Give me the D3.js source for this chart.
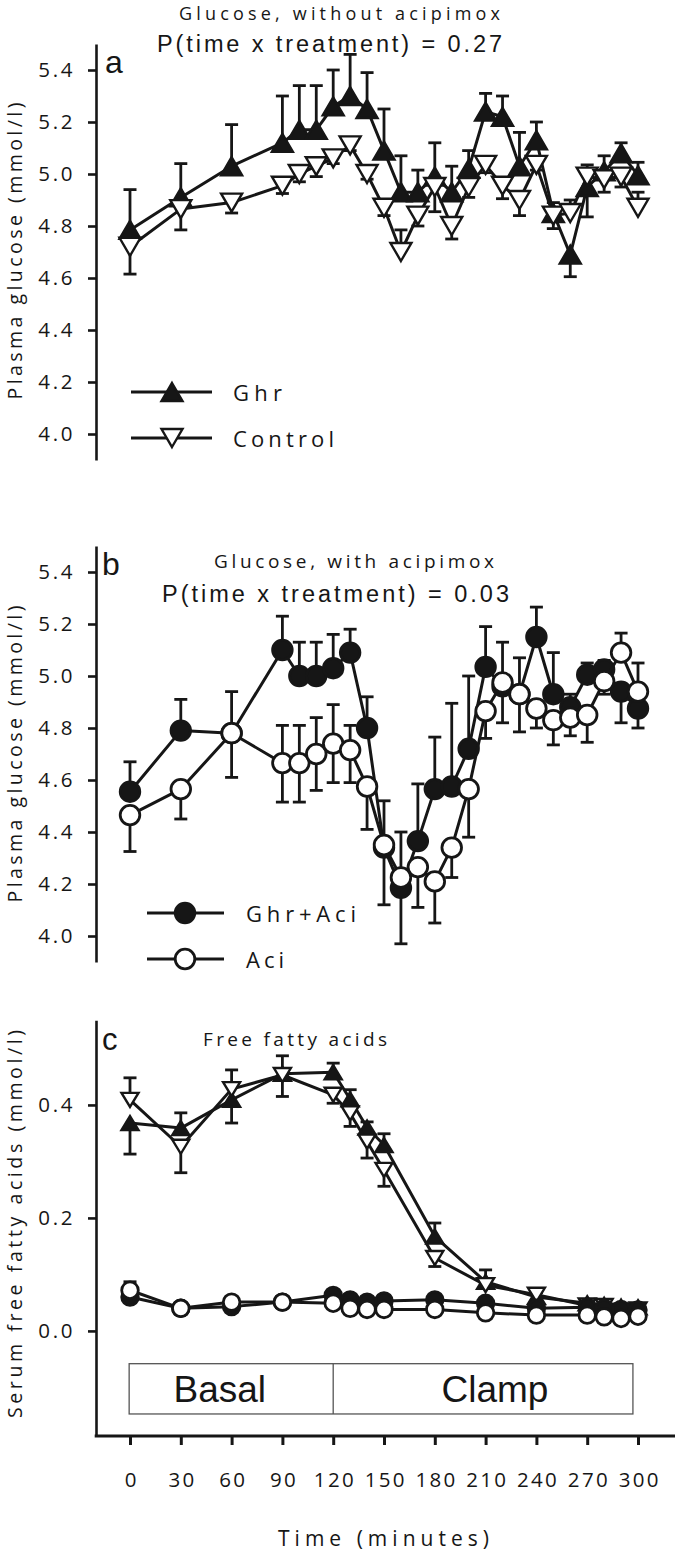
<!DOCTYPE html>
<html><head><meta charset="utf-8">
<script src="https://cdn.jsdelivr.net/npm/d3@7"></script>
<style>body{margin:0;background:#fff} svg{display:block}</style>
</head><body>
<script>
// ---------- DATA ----------
const timeGlu = [0,30,60,90,100,110,120,130,140,150,160,170,180,190,200,210,220,230,240,250,260,270,280,290,300];
// Panel a: Ghr (filled up-triangles) and Control (open down-triangles)
const ghrA     = [4.785,4.91,5.03,5.12,5.17,5.17,5.26,5.30,5.25,5.09,4.93,4.93,4.99,4.93,5.02,5.24,5.22,5.03,5.13,4.85,4.69,4.95,5.01,5.08,4.995];
const ghrAUp   = [0.155,0.13,0.16,0.18,0.17,0.17,0.14,0.16,0.14,0.16,0.14,0.085,0.13,0.10,0.07,0.07,0.08,0.13,0.07,0.04,0,0,0.06,0.04,0.05];
const ghrADn   = [0,0,0,0,0,0,0,0,0,0,0,0,0,0,0,0,0,0,0,0,0.085,0.115,0,0,0];
const ctlA     = [4.72,4.865,4.89,4.955,5.00,5.03,5.06,5.11,5.00,4.87,4.70,4.84,4.95,4.80,4.95,5.035,4.955,4.90,5.035,4.84,4.85,4.99,4.98,4.99,4.87];
const ctlAUp   = [0,0,0,0,0,0,0,0,0,0,0.085,0,0,0,0,0,0,0,0,0,0.05,0.045,0,0,0.06];
const ctlADn   = [0.105,0.08,0.04,0.03,0.03,0.04,0.02,0.02,0.02,0.03,0,0.04,0.095,0.05,0.04,0.03,0.05,0.06,0.02,0.05,0,0,0.05,0.04,0];
// Panel b: Ghr+Aci (filled circles) and Aci (open circles)
const ghrAci   = [4.555,4.79,4.78,5.10,5.00,5.00,5.03,5.09,4.80,4.34,4.185,4.365,4.565,4.575,4.72,5.035,4.96,4.93,5.15,4.93,4.88,5.005,5.025,4.94,4.875];
const ghrAciUp = [0.115,0.12,0,0.13,0.13,0.13,0.13,0.09,0.12,0,0,0.22,0.2,0.32,0.28,0.155,0,0,0.115,0.16,0.05,0.045,0.035,0,0];
const ghrAciDn = [0,0,0,0,0,0,0,0,0,0.22,0.215,0,0,0,0,0,0,0,0,0,0,0,0,0.12,0.075];
const aci      = [4.465,4.565,4.78,4.665,4.665,4.70,4.74,4.715,4.575,4.35,4.225,4.265,4.21,4.34,4.565,4.865,4.975,4.93,4.875,4.83,4.84,4.85,4.98,5.09,4.94];
const aciUp    = [0,0,0.16,0.145,0.145,0.14,0.15,0.095,0,0.17,0.175,0,0,0,0,0,0.155,0.14,0,0,0,0,0,0.075,0.11];
const aciDn    = [0.14,0.115,0.17,0.15,0.15,0.14,0.15,0.125,0.165,0,0,0.155,0.16,0.115,0.185,0.105,0.155,0.145,0.075,0.095,0.07,0.105,0.05,0,0];
// Panel c: free fatty acids
const timeFFA  = [0,30,60,90,120,130,140,150,180,210,240,270,280,290,300];
const ghrF     = [0.368,0.359,0.409,0.455,0.458,0.41,0.36,0.329,0.167,0.087,0.060,0.049,0.046,0.043,0.042];
const ghrFUp   = [0,0.027,0,0.032,0.016,0.017,0.01,0.02,0.024,0.021,0.008,0.006,0.006,0.005,0.005];
const ghrFDn   = [0.055,0,0.041,0,0,0,0,0,0,0,0,0,0,0,0];
const ctlF     = [0.409,0.326,0.428,0.453,0.418,0.385,0.335,0.285,0.129,0.081,0.064,0.045,0.044,0.036,0.038];
const ctlFUp   = [0.039,0,0.034,0,0,0,0,0,0,0,0,0,0,0,0];
const ctlFDn   = [0,0.046,0,0.038,0.015,0.023,0.029,0.029,0.015,0,0,0,0,0,0];
const ghrAciF  = [0.06,0.04,0.043,0.051,0.063,0.055,0.051,0.053,0.055,0.049,0.04,0.042,0.04,0.038,0.037];
const ghrAciFUp= [0.027,0.004,0.006,0.004,0.008,0.006,0.005,0.008,0.007,0.007,0.005,0.004,0.004,0.004,0.004];
const aciF     = [0.072,0.04,0.051,0.051,0.049,0.04,0.038,0.038,0.038,0.032,0.028,0.028,0.025,0.022,0.026];
const aciFDn   = [0,0,0,0,0,0,0,0,0,0,0,0,0,0,0];
const zeros    = [0,0,0,0,0,0,0,0,0,0,0,0,0,0,0];

const xTicks   = [0,30,60,90,120,150,180,210,240,270,300];
const gluTicks = [4.0,4.2,4.4,4.6,4.8,5.0,5.2,5.4];
const ffaTicks = [0.0,0.2,0.4];

// ---------- LAYOUT ----------
const W = 675, H = 1554, INK = "#161616", AX = 96;
const svg = d3.select("body").append("svg").attr("width", W).attr("height", H);
const x = d3.scaleLinear().domain([0,300]).range([130,638]);
const yA = d3.scaleLinear().domain([3.9,5.5]).range([460,44]);
const yB = d3.scaleLinear().domain([3.9,5.5]).range([962,546]);
const yC = d3.scaleLinear().domain([-0.186,0.55]).range([1436,1020.2]);

function yAxis(y, ticks, fmt){
  const g = svg.append("g").attr("transform", `translate(${AX},0)`)
    .call(d3.axisLeft(y).tickValues(ticks).tickFormat(fmt).tickSize(8).tickSizeOuter(0).tickPadding(13));
  g.select(".domain").attr("stroke", INK).attr("stroke-width", 2.6);
  g.selectAll(".tick line").attr("stroke", INK).attr("stroke-width", 2.6);
  g.selectAll(".tick text").attr("font-family","Open Sans").attr("font-size",20.5)
    .attr("letter-spacing",2.6).attr("fill",INK).attr("dy","0.34em");
}
yAxis(yA, gluTicks, d3.format(".1f"));
yAxis(yB, gluTicks, d3.format(".1f"));
yAxis(yC, ffaTicks, d3.format(".1f"));

// x axis (bottom of panel c)
const xg = svg.append("g").attr("transform","translate(0,1436)")
  .call(d3.axisBottom(x).tickValues(xTicks).tickFormat(d3.format("d")).tickSize(9).tickSizeOuter(0).tickPadding(27));
xg.select(".domain").remove();
xg.selectAll(".tick line").attr("stroke",INK).attr("stroke-width",3);
xg.selectAll(".tick text").attr("font-family","Open Sans").attr("font-size",20.5)
  .attr("letter-spacing",2.3).attr("dx","1.2").attr("fill",INK);
svg.append("line").attr("x1",AX-1.3).attr("x2",W).attr("y1",1436).attr("y2",1436)
  .attr("stroke",INK).attr("stroke-width",3);

// ---------- MARKERS ----------
function markerPath(type, s){
  if(type==="up"){ const w=s.w,h=s.h; return `M0,${-h/2}L${w/2},${h/2}L${-w/2},${h/2}Z`; }
  if(type==="down"){ const w=s.w,h=s.h; return `M0,${h/2}L${w/2},${-h/2}L${-w/2},${-h/2}Z`; }
  return null;
}
function drawMarker(g, type, filled, s){
  if(type==="circle"){
    g.append("circle").attr("r", s.r).attr("fill", filled?INK:"#fff").attr("stroke",INK).attr("stroke-width",2.8);
  } else {
    g.append("path").attr("d", markerPath(type,s)).attr("fill", filled?INK:"#fff")
      .attr("stroke",INK).attr("stroke-width",2.4).attr("stroke-linejoin","miter");
  }
}

function series(t, v, up, dn, y, type, filled, s){
  const g = svg.append("g");
  const cap = s.cap || 13;
  t.forEach((tt,i)=>{
    [[up[i],1],[dn[i],-1]].forEach(([e,sgn])=>{
      if(!e) return;
      const y0 = y(v[i]), y1 = y(v[i]+sgn*e), cx = x(tt);
      g.append("line").attr("x1",cx).attr("x2",cx).attr("y1",y0).attr("y2",y1)
        .attr("stroke",INK).attr("stroke-width",2.8);
      g.append("line").attr("x1",cx-cap/2).attr("x2",cx+cap/2).attr("y1",y1).attr("y2",y1)
        .attr("stroke",INK).attr("stroke-width",2.8);
    });
  });
  g.append("path").datum(t.map((d,i)=>[d,v[i]]))
    .attr("d", d3.line().x(d=>x(d[0])).y(d=>y(d[1])))
    .attr("fill","none").attr("stroke",INK).attr("stroke-width",3).attr("stroke-linejoin","round");
  t.forEach((tt,i)=>{
    const mg = g.append("g").attr("transform",`translate(${x(tt)},${y(v[i])})`);
    drawMarker(mg, type, filled, s);
  });
}

const triA = {w:21,h:18,cap:13};
const circB = {r:9.8,cap:13};
const triC = {w:17,h:14,cap:13};
const circC = {r:8.3,cap:13};

series(timeGlu, ghrA, ghrAUp, ghrADn, yA, "up", true, triA);
series(timeGlu, ctlA, ctlAUp, ctlADn, yA, "down", false, triA);
series(timeGlu, ghrAci, ghrAciUp, ghrAciDn, yB, "circle", true, circB);
series(timeGlu, aci, aciUp, aciDn, yB, "circle", false, circB);
series(timeFFA, ghrF, ghrFUp, ghrFDn, yC, "up", true, triC);
series(timeFFA, ctlF, ctlFUp, ctlFDn, yC, "down", false, triC);
series(timeFFA, ghrAciF, ghrAciFUp, zeros, yC, "circle", true, circC);
series(timeFFA, aciF, zeros, aciFDn, yC, "circle", false, circC);

// ---------- LEGENDS ----------
function legendItem(x1, x2, mx, ly, type, filled, s, label, tx, tlen){
  svg.append("line").attr("x1",x1).attr("x2",x2).attr("y1",ly).attr("y2",ly)
    .attr("stroke",INK).attr("stroke-width",3);
  const mg = svg.append("g").attr("transform",`translate(${mx},${ly})`);
  drawMarker(mg, type, filled, s);
  svg.append("text").attr("x",tx).attr("y",ly+9).attr("font-family","Open Sans").attr("font-size",22)
    .attr("fill",INK).attr("textLength",tlen).attr("lengthAdjust","spacing").text(label);
}
legendItem(131,212,172,392,"up",true,triA,"Ghr",233,49);
legendItem(131,212,172,438,"down",false,triA,"Control",233,101);
legendItem(147,224,185,913,"circle",true,circB,"Ghr+Aci",246,110);
legendItem(147,224,185,959,"circle",false,circB,"Aci",246,38);

// ---------- TEXTS ----------
function txt(str, xx, yy, opt){
  const t = svg.append("text").attr("x",xx).attr("y",yy).attr("fill",INK)
    .attr("font-family",opt.font||"Open Sans").attr("font-size",opt.size||18).text(str);
  if(opt.len) t.attr("textLength",opt.len).attr("lengthAdjust","spacing");
  if(opt.anchor) t.attr("text-anchor",opt.anchor);
  return t;
}
txt("Glucose, without acipimox", 179, 20, {size:18, len:321});
txt("P(time x treatment) = 0.27", 157, 52, {font:"Liberation Sans", size:23.5, len:345});
txt("a", 105, 73, {font:"Liberation Sans", size:32});
txt("Glucose, with acipimox", 214, 568, {size:19, len:280});
txt("P(time x treatment) = 0.03", 162, 602, {font:"Liberation Sans", size:23.5, len:347});
txt("b", 102, 575, {font:"Liberation Sans", size:32});
txt("Free fatty acids", 203, 1046, {size:19, len:184});
txt("c", 102, 1050, {font:"Liberation Sans", size:31});

function yLabel(str, cy, len){
  svg.append("text").attr("transform",`translate(22,${cy}) rotate(-90)`)
    .attr("x",-len/2).attr("y",0).attr("fill",INK).attr("font-family","Open Sans").attr("font-size",19.5)
    .attr("textLength",len).attr("lengthAdjust","spacing").text(str);
}
yLabel("Plasma glucose (mmol/l)", 251, 297);
yLabel("Plasma glucose (mmol/l)", 754, 297);
yLabel("Serum free fatty acids (mmol/l)", 1224, 388);

txt("Time (minutes)", 278, 1546, {size:21, len:211});

// Basal / Clamp box
const boxTop = yC(-0.058), boxBot = yC(-0.147);
svg.append("rect").attr("x",x(-0.5)).attr("y",boxTop).attr("width",x(297)-x(-0.5)).attr("height",boxBot-boxTop)
  .attr("fill","none").attr("stroke","#555").attr("stroke-width",1.3);
svg.append("line").attr("x1",x(120)).attr("x2",x(120)).attr("y1",boxTop).attr("y2",boxBot)
  .attr("stroke","#555").attr("stroke-width",1.3);
txt("Basal", x(53), 1402, {font:"Liberation Sans", size:37, anchor:"middle"});
txt("Clamp", x(215.5), 1402, {font:"Liberation Sans", size:37, anchor:"middle"});
</script>
</body></html>
